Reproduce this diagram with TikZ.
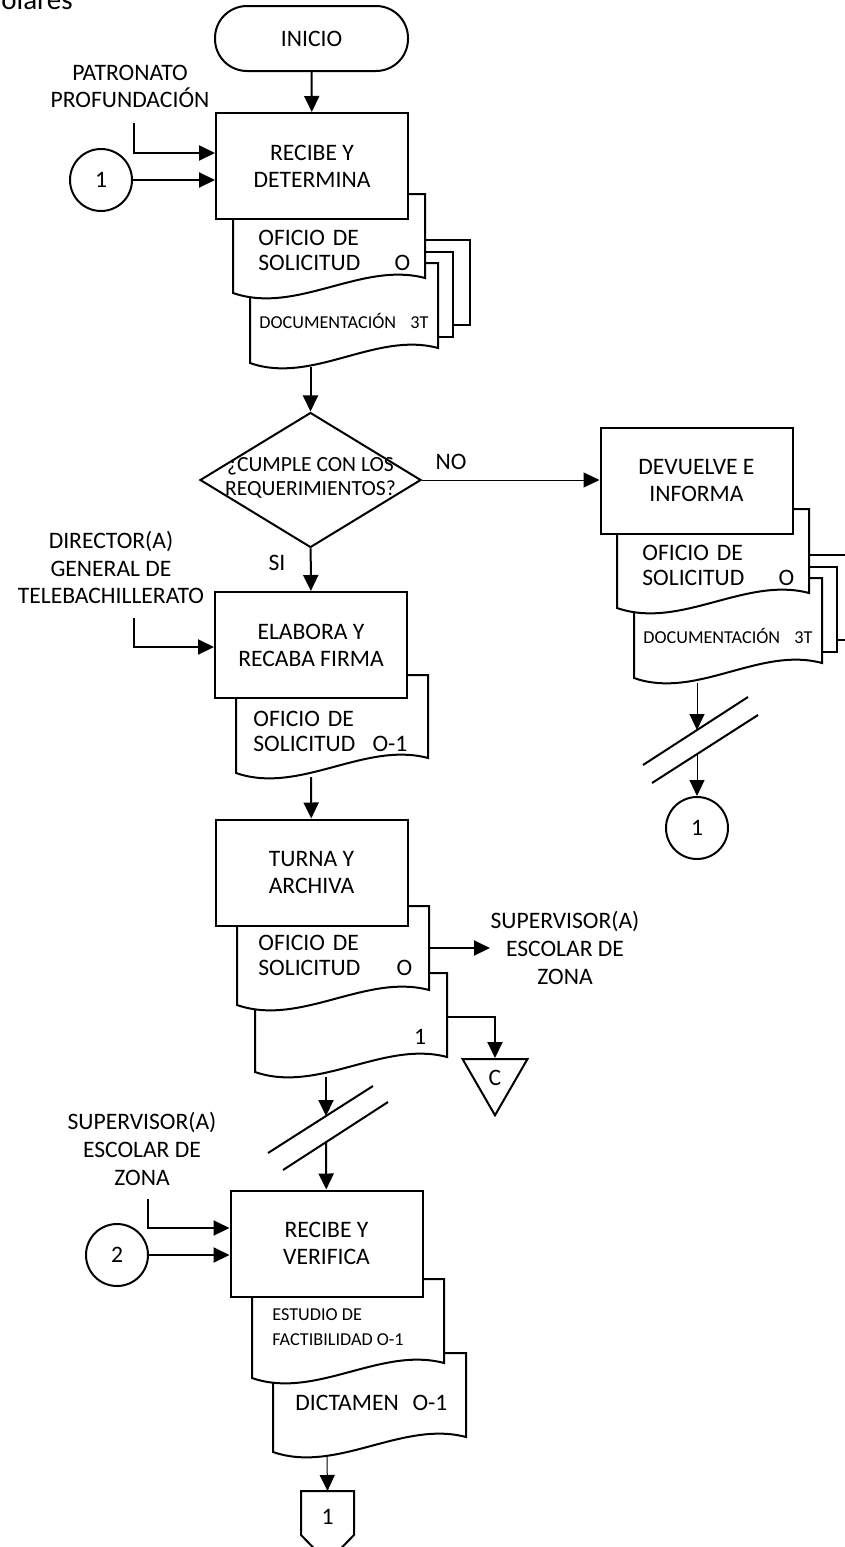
\documentclass[tikz,border=0pt]{standalone}
\usepackage{fontspec}
\setmainfont{Carlito}
\usepackage{xcolor}
\usepackage{tikz}
\usetikzlibrary{positioning, arrows.meta, shapes.geometric, calc}
\definecolor{ink}{RGB}{0,0,0}
\newcommand{\docsheet}[4]{%
  \filldraw[docline] (#1,#3) -- (#2,#3) -- (#2,{(#4)-15})
    .. controls ({(#1)+0.67*((#2)-(#1))},{(#4)-32}) and ({(#1)+0.33*((#2)-(#1))},{(#4)+22}) .. (#1,#4) -- cycle;}
\tikzset{
  procbox/.style  ={rectangle, draw=ink, line width=1pt, fill=white, minimum width=96pt,
                    minimum height=53pt, inner sep=2pt, align=center, font=\fontsize{11.8}{13.5}\selectfont},
  termbox/.style  ={procbox, rounded corners=16pt, minimum width=96.5pt, minimum height=32.5pt},
  connbox/.style  ={circle, draw=ink, line width=1pt, fill=white, minimum size=31pt,
                    inner sep=0pt, font=\fontsize{11.8}{13.5}\selectfont},
  decbox/.style   ={diamond, draw=ink, line width=1pt, fill=white, minimum width=110.5pt,
                    minimum height=67.5pt, inner sep=0pt},
  archbox/.style  ={regular polygon, regular polygon sides=3, shape border rotate=180, draw=ink,
                    line width=1pt, fill=white, minimum size=37.5pt, inner sep=0pt,
                    font=\fontsize{11.8}{13.5}\selectfont},
  docline/.style  ={draw=ink, line width=1pt, fill=white},
  doctext/.style  ={anchor=west, align=left, inner sep=0pt, font=\fontsize{11.8}{12.5}\selectfont},
  docsmall/.style ={doctext, font=\fontsize{9.1}{12.5}\selectfont},
  actor/.style    ={align=center, inner sep=0pt, font=\fontsize{11.8}{13.8}\selectfont},
  dectext/.style  ={align=center, inner sep=0pt, font=\fontsize{10.8}{12}\selectfont},
  arr/.style      ={-{Triangle[length=8pt, width=7.5pt]}, line width=1pt, color=ink},
  thinarr/.style  ={-{Triangle[length=8pt, width=7.5pt]}, line width=0.5pt, color=ink},
  breakline/.style={line width=1pt, color=ink},
}
\begin{document}
\begin{tikzpicture}[x=0.5pt, y=-0.5pt]
\useasboundingbox (0,0) rectangle (845,1547);
\node[anchor=base west, inner sep=0pt, font=\fontsize{14.5}{16}\selectfont] (head) at (1,10) {olares};

\node[termbox] (start) at (311.5,38.5) {INICIO};

\foreach \dx/\dy in {0/0, 384/315} {
  \filldraw[docline] (280+\dx,240+\dy) rectangle (470+\dx,325+\dy);
  \filldraw[docline] (265+\dx,252+\dy) rectangle (453+\dx,337+\dy);
  \docsheet{250+\dx}{438+\dx}{263+\dy}{363+\dy}
  \docsheet{233+\dx}{425+\dx}{194+\dy}{293+\dy}
}
\node[procbox] (rec1) at (312,166) {RECIBE Y\\DETERMINA};
\node[procbox] (dev) at (696.5,481) {DEVUELVE E\\INFORMA};
\node[doctext, text width=76pt] (ofiA) at (258,250.5) {OFICIO DE\\SOLICITUD\hfill O};
\node[docsmall, text width=84.5pt] (docuA) at (259,321) {DOCUMENTACIÓN\hfill 3T};
\node[doctext, text width=76pt] (ofiB) at (642,565.5) {OFICIO DE\\SOLICITUD\hfill O};
\node[docsmall, text width=84.5pt] (docuB) at (643,636) {DOCUMENTACIÓN\hfill 3T};

\node[actor] (patron) at (130,86.5) {PATRONATO\\PROFUNDACIÓN};
\coordinate (patin) at (134,123);
\node[connbox] (c1a) at (101,180) {1};
\draw[arr] (start) -- (rec1);
\draw[arr] (patin) |- ([yshift=6.5pt]rec1.west);
\draw[arr] (c1a) -- (c1a -| rec1.west);

\coordinate (outA) at (310.5,367);
\node[decbox] (dec) at (310.5,480) {};
\node[dectext] (dectxt) at (310.5,478) {¿CUMPLE CON LOS\\REQUERIMIENTOS?};
\draw[arr] (outA) -- (dec);
\draw[thinarr] (dec.east) -- (dec.east -| dev.west);
\node[actor] (no) at (451,462) {NO};

\docsheet{236}{428}{675}{773}
\node[procbox] (elab) at (311,645) {ELABORA Y\\RECABA FIRMA};
\node[doctext, text width=77pt] (ofiC) at (253,731.5) {OFICIO DE\\SOLICITUD\hfill O-1};
\node[actor] (yes) at (277,563) {SI};
\draw[arr] (dec) -- (elab);
\node[actor] (director) at (111,567.5) {DIRECTOR(A)\\GENERAL DE\\TELEBACHILLERATO};
\coordinate (dirin) at (134,618);
\draw[arr] (dirin) |- ([yshift=-1pt]elab.west);

\docsheet{255}{447}{973}{1072}
\docsheet{237}{429}{906}{1005}
\node[procbox] (turn) at (311.5,872.5) {TURNA Y\\ARCHIVA};
\node[doctext, text width=77pt] (ofiD) at (258,955) {OFICIO DE\\SOLICITUD\hfill O};
\node[doctext, anchor=center] (copy1) at (420,1037) {1};
\coordinate (outB) at (311,777);
\draw[arr] (outB) -- (turn);
\coordinate (sendsup) at (429,948);
\coordinate (tosup) at (490,948);
\draw[arr] (sendsup) -- (tosup);
\node[actor] (supzone) at (565,948) {SUPERVISOR(A)\\ESCOLAR DE\\ZONA};
\node[archbox] (arch) at (495,1077.75) {C};
\coordinate (sendarch) at (447,1017);
\draw[arr] (sendarch) -| (arch);

\coordinate (outC) at (326,1077);
\coordinate (brkC1) at (326,1116);
\coordinate (brkC2) at (326,1142);
\draw[breakline] (268,1153) -- (373,1086);
\draw[breakline] (283,1170) -- (388,1102);
\draw[arr] (outC) -- (brkC1);

\docsheet{273}{466}{1353}{1452}
\docsheet{252}{444}{1279}{1378}
\node[procbox] (rvf) at (326.5,1243.5) {RECIBE Y\\VERIFICA};
\draw[arr] (brkC2) -- (rvf);
\node[docsmall] (estudio) at (272,1327.5) {ESTUDIO DE\\FACTIBILIDAD O-1};
\node[doctext, text width=76pt] (dictamen) at (295,1403) {DICTAMEN\hfill O-1};
\node[actor] (supzone2) at (142,1149) {SUPERVISOR(A)\\ESCOLAR DE\\ZONA};
\coordinate (supin) at (148,1199);
\draw[arr] (supin) |- ([yshift=7.75pt]rvf.west);
\node[connbox] (c2) at (117,1255) {2};
\draw[arr] (c2) -- (c2 -| rvf.west);

\coordinate (outD) at (327,1457);
\coordinate (offtop) at (327.5,1491);
\filldraw[docline] (301,1491) -- (354,1491) -- (354,1535) -- (327.5,1562) -- (301,1535) -- cycle;
\node[actor] (off1) at (327.5,1517) {1};
\draw[thinarr] (outD) -- (offtop);

\coordinate (outE) at (697,683);
\coordinate (brkE1) at (697,730);
\coordinate (brkE2) at (697,754);
\draw[breakline] (643,765) -- (748,697);
\draw[breakline] (652,783) -- (758,715);
\draw[thinarr] (outE) -- (brkE1);
\node[connbox] (c1b) at (697,828) {1};
\draw[thinarr] (brkE2) -- (c1b);
\end{tikzpicture}
\end{document}
